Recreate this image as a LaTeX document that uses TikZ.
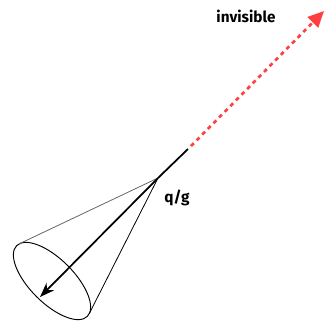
\documentclass[tikz,border=0pt]{standalone}
\usepackage{fontspec}
\setsansfont{Fira Sans}
\usepackage{tikz}
\usetikzlibrary{arrows.meta}
\definecolor{jetred}{RGB}{255,64,64}

\begin{document}
\begin{tikzpicture}[x=0.75pt, y=0.75pt, >=Stealth,
    lbl/.style={font=\sffamily\bfseries\fontsize{11.5}{13}\selectfont}]
  \useasboundingbox (0,0) rectangle (326,-330);

  % --- vertex and ends of the two jets ---
  \coordinate (apex) at (158,-178);
  \coordinate (kink) at (188,-149);
  \coordinate (gap)  at (191,-146);
  \coordinate (tip)  at (324,-11);
  \coordinate (lead) at (40,-297);

  % --- the cone round the visible jet ---
  \begin{scope}[shift={(52,-281)}, rotate=-45]
    \draw[line width=0.7pt] (0,0) ellipse (50 and 22);
    \coordinate (rimA) at (-49.4,3.3);
    \coordinate (rimB) at (49.4,3.3);
  \end{scope}
  \draw[black!60, line width=0.6pt] (apex) -- (rimA);
  \draw[line width=0.6pt] (apex) -- (rimB);

  % --- visible jet ---
  \draw[-{Stealth[length=11pt, width=8pt]}, line width=1.3pt] (apex) -- (lead);
  \draw[line width=1.3pt] (apex) -- (kink);

  % --- invisible jet, dotted ---
  \draw[jetred, line width=2pt, dash pattern=on 3pt off 3pt,
        -{Triangle[length=12pt, width=11pt]}] (gap) -- (tip);

  \node[lbl] (inv) at (246,-16) {invisible};
  \node[lbl] (qg)  at (177,-198) {q/g};
\end{tikzpicture}
\end{document}
